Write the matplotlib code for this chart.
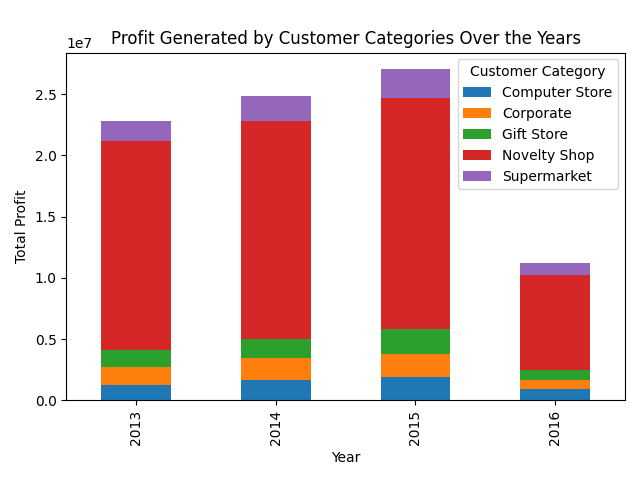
import matplotlib
matplotlib.use("Agg")
import matplotlib.pyplot as plt
import pandas as pd

years = [2013, 2014, 2015, 2016]
computer_store = [1.30e6, 1.65e6, 1.90e6, 0.90e6]
corporate = [1.40e6, 1.78e6, 1.86e6, 0.73e6]
gift_store = [1.45e6, 1.55e6, 2.04e6, 0.82e6]
novelty_shop = [17.0e6, 17.8e6, 18.87e6, 7.75e6]
supermarket = [1.65e6, 2.10e6, 2.37e6, 1.00e6]

df = pd.DataFrame({
    'Computer Store': computer_store,
    'Corporate': corporate,
    'Gift Store': gift_store,
    'Novelty Shop': novelty_shop,
    'Supermarket': supermarket,
}, index=pd.Index(years, name='Year'))

fig, ax = plt.subplots(figsize=(6.4, 4.8), dpi=100)
df.plot(kind='bar', stacked=True, ax=ax)
ax.set_title('Profit Generated by Customer Categories Over the Years')
ax.set_xlabel('Year')
ax.set_ylabel('Total Profit')
ax.legend(title='Customer Category')
plt.tight_layout()
plt.savefig('out.png')
